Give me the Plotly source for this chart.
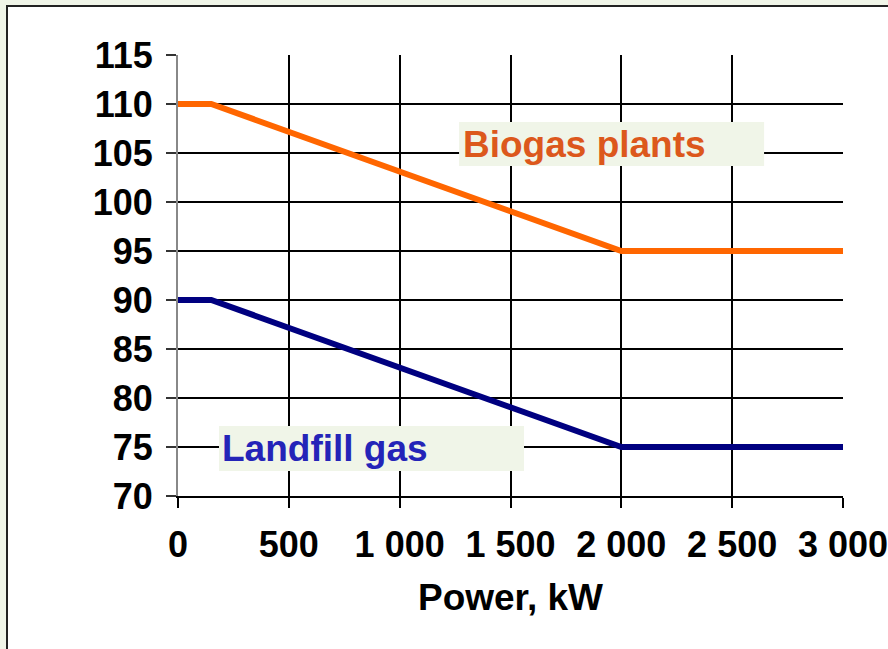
import plotly.graph_objects as go

# Data
power_kw = [0, 150, 2000, 3000]
biogas = [110, 110, 95, 95]
landfill = [90, 90, 75, 75]
x_tick_vals = [0, 500, 1000, 1500, 2000, 2500, 3000]
x_tick_labels = ["0", "500", "1 000", "1 500", "2 000", "2 500", "3 000"]
y_tick_vals = [70, 75, 80, 85, 90, 95, 100, 105, 110, 115]

FONT = "Liberation Sans, Arial, sans-serif"
PALE = "#f0f5e8"

fig = go.Figure()
fig.add_trace(go.Scatter(x=power_kw, y=biogas, mode="lines", name="Biogas plants",
                         line=dict(color="#ff6600", width=6)))
fig.add_trace(go.Scatter(x=power_kw, y=landfill, mode="lines", name="Landfill gas",
                         line=dict(color="#000080", width=6)))

W, H = 888, 649
L, R, T, B = 178, 45, 55, 153
pw, ph = W - L - R, H - T - B

def px_to_paper(X, Y):
    return (X - L) / pw, (H - B - Y) / ph

# white panel with border
x0, y0 = px_to_paper(7, 6)
x1, y1 = px_to_paper(905, 670)
fig.add_shape(type="rect", xref="paper", yref="paper", x0=x0, y0=y1, x1=x1, y1=y0,
              fillcolor="white", line=dict(color="#222222", width=2), layer="below")

# label boxes
fig.add_shape(type="rect", xref="x", yref="y", x0=1268, x1=2644, y0=103.67, y1=108.16,
              fillcolor=PALE, line=dict(width=0), layer="above")
fig.add_shape(type="rect", xref="x", yref="y", x0=185, x1=1561, y0=72.55, y1=77.14,
              fillcolor=PALE, line=dict(width=0), layer="above")

fig.add_annotation(x=1275, y=105.9, xref="x", yref="y", text="<b>Biogas plants</b>",
                   showarrow=False, xanchor="left", yanchor="middle",
                   font=dict(family=FONT, size=37, color="#dc581c"))
fig.add_annotation(x=190, y=74.8, xref="x", yref="y", text="<b>Landfill gas</b>",
                   showarrow=False, xanchor="left", yanchor="middle",
                   font=dict(family=FONT, size=37, color="#2424b8"))

fig.update_layout(
    width=W, height=H,
    margin=dict(l=L, r=R, t=T, b=B, autoexpand=False),
    paper_bgcolor=PALE, plot_bgcolor="white",
    showlegend=False,
    font=dict(family=FONT, size=36, color="black"),
)
fig.update_xaxes(range=[0, 3000], tickvals=x_tick_vals, ticktext=x_tick_labels,
                 automargin=False, ticklabeloverflow="allow",
                 showgrid=True, gridcolor="black", gridwidth=2,
                 showline=True, linecolor="black", linewidth=2,
                 ticks="outside", ticklen=10, tickwidth=2, tickcolor="black",
                 tickfont=dict(family=FONT, size=36, weight="bold"),
                 ticklabelstandoff=6,
                 zeroline=False,
                 title=dict(text="<b>Power, kW</b>", font=dict(family=FONT, size=37), standoff=20))
fig.update_yaxes(range=[70, 115], tickvals=y_tick_vals,
                 automargin=False, ticklabeloverflow="allow",
                 showgrid=True, gridcolor="black", gridwidth=2,
                 showline=True, linecolor="#888888", linewidth=2,
                 ticks="outside", ticklen=10, tickwidth=2, tickcolor="#333333",
                 tickfont=dict(family=FONT, size=36, weight="bold"),
                 ticklabelstandoff=6,
                 zeroline=False)

fig.write_html("out.html", config={"displayModeBar": False},
               post_script="document.body.style.margin='0px';document.body.style.overflow='hidden';")
